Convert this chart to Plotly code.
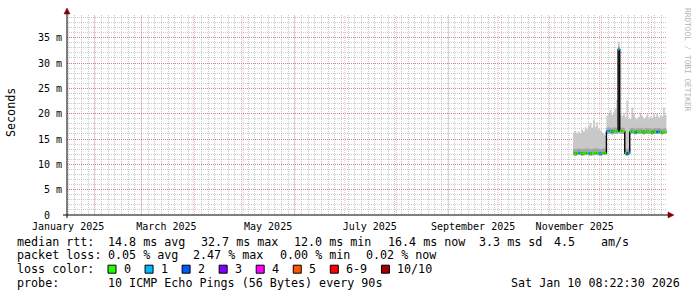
import plotly.graph_objects as go
import pandas as pd

# ---------------- data ----------------
graph_start = "2025-01-15 08:22:30"
graph_end = "2026-01-10 08:22:30"

first_day = "2025-11-15"   # one value per day, Nov 15 2025 .. Jan 9 2026

median_ms = [
    12.2, 12.1, 12.2, 12.3, 12.2, 12.1, 12.2, 12.2, 12.3, 12.2,
    12.1, 12.2, 12.2, 12.3, 12.2, 12.2, 12.1, 12.2, 12.3, 12.2,
    16.5, 16.6, 16.5, 16.4, 16.6, 16.5, 16.5, 32.7, 16.6, 16.5, 16.5,
    12.2, 12.1, 12.3,
    16.4, 16.5, 16.4, 16.3, 16.5, 16.4, 16.4, 16.5, 16.3, 16.4, 16.5,
    16.4, 16.4, 16.3, 16.5, 16.4, 16.4, 16.5, 16.4, 16.3, 16.4, 16.4,
]
smoke_max_ms = [
    16.3, 16.6, 16.1, 16.5, 16.2, 16.8, 16.5, 17.3, 16.9, 17.6,
    18.1, 17.2, 18.7, 17.4, 18.3, 17.0, 16.7, 16.3, 16.0, 15.7,
    19.6, 20.0, 20.8, 19.8, 20.3, 21.0, 22.7, 34.2, 19.8, 19.5, 20.1,
    19.3, 22.6, 19.0,
    19.0, 21.2, 20.0, 19.2, 18.9, 19.4, 20.2, 19.6, 19.0, 19.3, 19.8,
    19.1, 19.5, 19.2, 19.9, 19.4, 20.1, 19.3, 19.7, 19.5, 21.2, 19.8,
]
smoke_min_ms = [
    11.8, 11.7, 11.8, 11.9, 11.8, 11.7, 11.8, 11.8, 11.9, 11.8,
    11.7, 11.8, 11.8, 11.9, 11.8, 11.8, 11.7, 11.8, 11.9, 11.8,
    16.0, 16.1, 16.0, 15.9, 16.1, 16.0, 16.0, 16.2, 16.1, 16.0, 16.0,
    11.8, 11.7, 11.9,
    16.0, 16.1, 16.0, 15.9, 16.1, 16.0, 16.0, 16.1, 15.9, 16.0, 16.1,
    16.0, 16.0, 15.9, 16.1, 16.0, 16.0, 16.1, 16.0, 15.9, 16.0, 16.0,
]
smoke_inner_ms = [
    13.1, 13.0, 13.1, 13.2, 13.1, 13.0, 13.1, 13.1, 13.2, 13.1,
    13.0, 13.1, 13.1, 13.2, 13.1, 13.1, 13.0, 13.1, 13.2, 13.1,
    17.2, 17.3, 17.2, 17.1, 17.3, 17.2, 17.2, 33.3, 17.3, 17.2, 17.2,
    13.1, 13.0, 13.2,
    17.1, 17.2, 17.1, 17.0, 17.2, 17.1, 17.1, 17.2, 17.0, 17.1, 17.2,
    17.1, 17.1, 17.0, 17.2, 17.1, 17.1, 17.2, 17.1, 17.0, 17.1, 17.1,
]
loss_category = [
    0, 0, 0, 1, 0, 0, 0, 0, 0, 1,
    0, 0, 0, 0, 0, 1, 1, 0, 0, 0,
    1, 1, 0, 1, 0, 0, 0, 1, 0, 0, 0,
    0, 2, 1,
    0, 0, 0, 1, 0, 0, 0, 0, 0, 0, 0,
    0, 0, 0, 0, 0, 2, 1, 0, 0, 0, 0,
]

loss_labels = ["0", "1", "2", "3", "4", "5", "6-9", "10/10"]
loss_colors = ["#26ff00", "#00b8ff", "#0059ff", "#7e00ff", "#ff00ff", "#ff5500", "#ff0000", "#a10000"]

month_starts = ["2025-02-01", "2025-03-01", "2025-04-01", "2025-05-01", "2025-06-01", "2025-07-01",
                "2025-08-01", "2025-09-01", "2025-10-01", "2025-11-01", "2025-12-01", "2026-01-01"]
x_label_dates = ["2025-01-16", "2025-03-16", "2025-05-16", "2025-07-16", "2025-09-16", "2025-11-16"]
x_label_text = ["January 2025", "March 2025", "May 2025", "July 2025", "September 2025", "November 2025"]

y_tick_vals = [0, 5, 10, 15, 20, 25, 30, 35]
y_tick_text = ["0\u00a0\u00a0", "5 m", "10 m", "15 m", "20 m", "25 m", "30 m", "35 m"]
y_max_ms = 39.48

rtt_items = ["median rtt:", "14.8 ms avg", "32.7 ms max", "12.0 ms min", "16.4 ms now", "3.3 ms sd", "4.5", "am/s"]
loss_items = ["packet loss:", "0.05 % avg", "2.47 % max", "0.00 % min", "0.02 % now"]
loss_color_title = "loss color:"
probe_items = ["probe:", "10 ICMP Echo Pings (56 Bytes) every 90s"]
timestamp = "Sat Jan 10 08:22:30 2026"
y_title = "Seconds"
watermark = "RRDTOOL / TOBI OETIKER"

# ---------------- layout constants ----------------
W, H = 697, 297
PL, PR, PT, PB = 67, 667, 15, 215
MONO = "DejaVu Sans Mono"
rtt_x = [16, 107, 200, 293, 386.5, 478, 553, 600]
loss_x = [16, 107, 191.7, 279.3, 365]
probe_x = [16, 107]
line_y = [241.5, 255.2, 269.2, 283]
CHAR_W = 7.05


def px(x):
    return (x - PL) / (PR - PL)


def py(y):
    return (PB - y) / (PB - PT)


edges = pd.date_range(first_day, periods=len(median_ms) + 1, freq="D")


def ext(v):
    return list(v) + [v[-1]]


fig = go.Figure()

# smoke (outer)
fig.add_trace(go.Scatter(x=edges, y=ext(smoke_min_ms), mode="lines", line=dict(width=0, shape="hv"),
                         hoverinfo="skip", showlegend=False))
fig.add_trace(go.Scatter(x=edges, y=ext(smoke_max_ms), mode="lines", line=dict(width=0, shape="hv"),
                         fill="tonexty", fillcolor="#c8c8c8", hoverinfo="skip", showlegend=False))
# smoke (inner, darker)
fig.add_trace(go.Scatter(x=edges, y=ext(smoke_min_ms), mode="lines", line=dict(width=0, shape="hv"),
                         hoverinfo="skip", showlegend=False))
fig.add_trace(go.Scatter(x=edges, y=ext(smoke_inner_ms), mode="lines", line=dict(width=0, shape="hv"),
                         fill="tonexty", fillcolor="#a4a4a4", hoverinfo="skip", showlegend=False))
# median black
fig.add_trace(go.Scatter(x=edges, y=ext(median_ms), mode="lines", line=dict(width=1.4, shape="hv", color="#000000"),
                         hoverinfo="skip", showlegend=False))
# loss-coloured median segments
for c, col in enumerate(loss_colors):
    xs, ys = [], []
    for i, cat in enumerate(loss_category):
        if cat == c:
            xs += [edges[i], edges[i + 1], None]
            ys += [median_ms[i], median_ms[i], None]
    if xs:
        fig.add_trace(go.Scatter(x=xs, y=ys, mode="lines", line=dict(width=2.2, color=col),
                                 hoverinfo="skip", showlegend=False))

grid_minor = "rgba(140,140,140,0.45)"
grid_major = "rgba(222,70,70,0.55)"
grid_major_v = "rgba(222,70,70,0.36)"

# month gridlines
for d in month_starts:
    fig.add_shape(type="line", x0=d, x1=d, y0=0, y1=1, xref="x", yref="paper",
                  line=dict(color=grid_major_v, width=1, dash="1px,1px"), layer="between")

# axis extensions & arrows
shapes_paper = [
    dict(type="line", x0=px(63), x1=px(669), y0=0, y1=0, line=dict(color="#000000", width=1)),
    dict(type="line", x0=0, x1=0, y0=py(218), y1=py(13), line=dict(color="#000000", width=1)),
    dict(type="path", path=f"M {px(64)} {py(14)} L {px(70)} {py(14)} L {px(67)} {py(8)} Z",
         fillcolor="#7f0000", line=dict(color="#7f0000", width=0.5)),
    dict(type="path", path=f"M {px(668)} {py(212)} L {px(668)} {py(218)} L {px(674)} {py(215)} Z",
         fillcolor="#7f0000", line=dict(color="#7f0000", width=0.5)),
]
for s in shapes_paper:
    fig.add_shape(xref="paper", yref="paper", layer="above", **s)

ann = []


def text(t, x, y, anchor="left", size=11.7, angle=0, color="#000000"):
    ann.append(dict(text=t, x=px(x), y=py(y), xref="paper", yref="paper", xanchor=anchor, yanchor="middle",
                    showarrow=False, borderpad=0, textangle=angle,
                    font=dict(family=MONO, size=size, color=color)))


for t, x in zip(rtt_items, rtt_x):
    text(t, x, line_y[0])
for t, x in zip(loss_items, loss_x):
    text(t, x, line_y[1])
text(loss_color_title, 16, line_y[2])
bx = 108
for lab, col in zip(loss_labels, loss_colors):
    fig.add_shape(type="rect", xref="paper", yref="paper", x0=px(bx), x1=px(bx + 8),
                  y0=py(line_y[2] + 4), y1=py(line_y[2] - 4), fillcolor=col,
                  line=dict(color="#000000", width=1), layer="above")
    text(lab, bx + 15, line_y[2])
    bx = bx + 15 + len(lab) * CHAR_W + 15
for t, x in zip(probe_items, probe_x):
    text(t, x, line_y[3])
text(timestamp, 681, line_y[3], anchor="right")
text(y_title, 11, 113, anchor="center", angle=-90)
text(watermark, 687, 60, anchor="center", size=7.8, angle=90, color="#b4b4b4")

fig.update_layout(
    width=W, height=H,
    margin=dict(l=PL, r=W - PR, t=PT, b=H - PB, autoexpand=False),
    paper_bgcolor="#ffffff", plot_bgcolor="#ffffff",
    showlegend=False,
    annotations=ann,
    xaxis=dict(type="date", range=[graph_start, graph_end], tickmode="array",
               tickvals=x_label_dates, ticktext=x_label_text, showgrid=False, zeroline=False,
               showline=False, ticks="", ticklabelstandoff=4,
               tickfont=dict(family=MONO, size=10, color="#000000"),
               minor=dict(dtick=4 * 86400000, tick0="2025-02-01", showgrid=True,
                          gridcolor=grid_minor, griddash="1px,1px", gridwidth=1)),
    yaxis=dict(range=[0, y_max_ms], tickmode="array", tickvals=y_tick_vals, ticktext=y_tick_text,
               showgrid=True, gridcolor=grid_major, griddash="1px,1px", gridwidth=1, zeroline=False,
               showline=False, ticks="", ticklabelstandoff=4,
               tickfont=dict(family=MONO, size=10, color="#000000"),
               minor=dict(dtick=1, showgrid=True, gridcolor=grid_minor, griddash="1px,1px", gridwidth=1)),
)

fig.write_html("out.html")
